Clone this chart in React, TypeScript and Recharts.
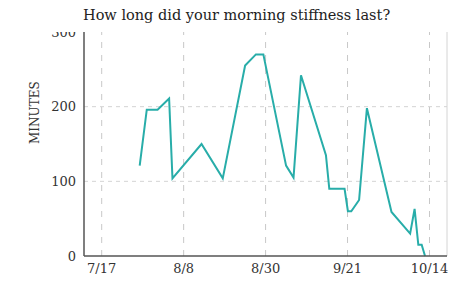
import React from 'react';
import { LineChart, Line, XAxis, YAxis, ReferenceLine } from 'recharts';

// days counted from 7/17
const days = [10.2, 12.1, 15.0, 18.1, 19.0, 26.8, 32.5, 38.5, 41.4, 43.4, 49.5, 51.5, 53.5, 60.2, 61.1, 65.2, 66.1, 67.0, 69.1, 71.2, 77.8, 82.8, 84.0, 85.0, 85.9, 86.8];
const minutes = [121, 196, 196, 211, 104, 150, 104, 255, 270, 270, 121, 105, 242, 135, 90, 90, 60, 60, 75, 198, 59, 30, 63, 15, 15, 0];

const xTicks = [0, 22, 44, 66, 88];
const xTickLabels = ['7/17', '8/8', '8/30', '9/21', '10/14'];
const yTicks = [0, 100, 200, 300];
const yGrid = [100, 200];
const xDomain = [-4.75, 92.7];

const data = days.map((day, i) => ({ day, minutes: minutes[i] }));

const font = 'DejaVu Serif';

export default function App() {
  return (
    <div style={{ position: 'absolute', left: 0, top: 0, width: 452, height: 282, background: '#fff' }}>
      <LineChart width={452} height={282} data={data} margin={{ top: 32, right: 5, bottom: 0, left: 0 }}>
        {yGrid.map((v) => (
          <ReferenceLine key={'h' + v} y={v} stroke="#d4d4d4" strokeDasharray="4 4" />
        ))}
        {xTicks.map((v) => (
          <ReferenceLine key={'v' + v} x={v} stroke="#c8c8c8" strokeDasharray="6 7" />
        ))}
        <ReferenceLine x={xDomain[1]} stroke="#d4d4d4" />
        <XAxis
          dataKey="day"
          type="number"
          domain={xDomain}
          ticks={xTicks}
          allowDataOverflow
          tickFormatter={(v: number) => xTickLabels[xTicks.indexOf(v)]}
          tickLine={false}
          height={26}
          stroke="#555"
          strokeWidth={1.5}
          tick={{ fill: '#333', fontSize: 13, fontFamily: font }}
        />
        <YAxis
          type="number"
          domain={[0, 300]}
          ticks={yTicks}
          width={84}
          tickLine={false}
          stroke="#555"
          strokeWidth={1.5}
          tick={{ fill: '#333', fontSize: 13, fontFamily: font }}
          label={{ value: 'MINUTES', angle: -90, position: 'insideLeft', offset: 35, fill: '#333', fontSize: 12, fontFamily: font }}
        />
        <Line type="linear" dataKey="minutes" stroke="#28ada9" strokeWidth={2} dot={false} isAnimationActive={false} />
      </LineChart>
      <div
        style={{
          position: 'absolute', left: 0, top: 0, width: 452, height: 32, background: '#fff',
          fontFamily: font, fontSize: 14.5, color: '#222', paddingLeft: 83, boxSizing: 'border-box',
          lineHeight: '30px', whiteSpace: 'nowrap',
        }}
      >
        How long did your morning stiffness last?
      </div>
    </div>
  );
}
